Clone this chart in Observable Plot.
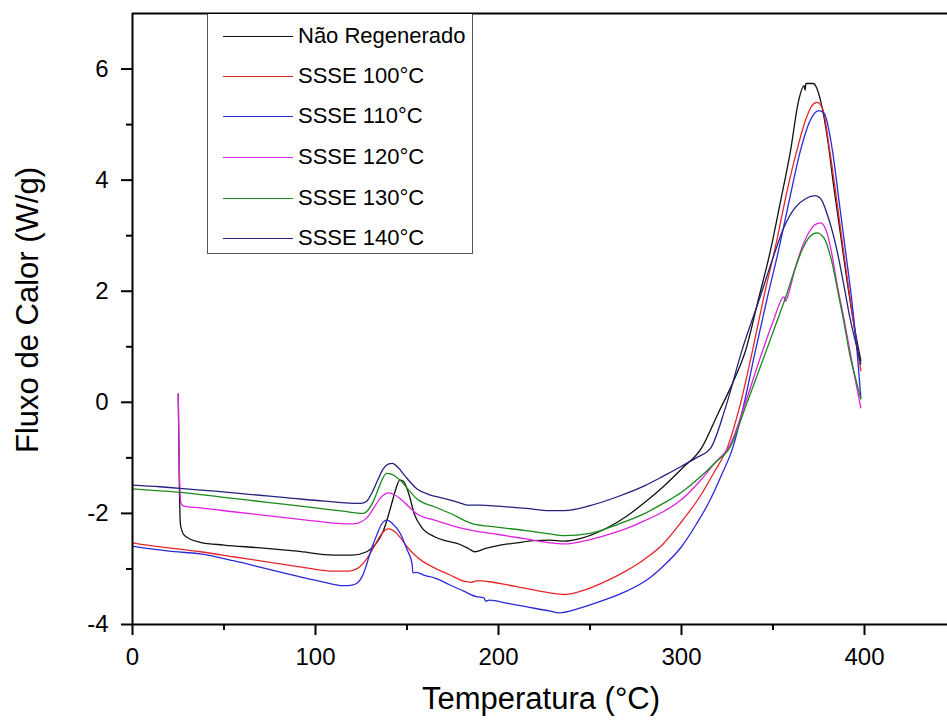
<!DOCTYPE html>
<html>
<head>
<meta charset="utf-8">
<script src="https://cdn.jsdelivr.net/npm/d3@7"></script>
<script src="https://cdn.jsdelivr.net/npm/@observablehq/plot@0.6"></script>
<style>
  html, body { margin: 0; padding: 0; background: #fff; }
  #wrap { position: relative; width: 947px; height: 722px; overflow: hidden; font-family: "Liberation Sans", Arial, sans-serif; }
  #legend { position: absolute; left: 207px; top: 14px; width: 266px; height: 240px; border: 1px solid #555; border-top: none; background: #fff; box-sizing: border-box; }
  .sw { position: absolute; left: 15px; width: 70px; height: 0; border-top: 1.3px solid; }
  .lt { position: absolute; left: 90px; font-size: 22px; white-space: nowrap; color: #000; }
  .title { position: absolute; font-size: 31px; color: #000; white-space: nowrap; line-height: 31px; }
</style>
</head>
<body>
<div id="wrap"></div>
<script>
// ---- Data ----
const seriesNames = ["Não Regenerado", "SSSE 100°C", "SSSE 110°C", "SSSE 120°C", "SSSE 130°C", "SSSE 140°C"];
const seriesColors = ["#111111", "#e8262a", "#2a2ad8", "#e020e0", "#1a8a1a", "#23237e"];

const naoT = [25,25.6,26.2,28,32,37,50,70,90,110,120,128,133,137,141,144,146,148,151,154,158,165,172,179,184,187,193,201,210,219,228,236,245,260,270,280,290,300,311,320,328,335,342,348.6,354,359.6,364,367,367.5,368,372,374,376,380,383,387,390.7,394,398];
const naoV = [0.15,-1.5,-2.2,-2.38,-2.47,-2.52,-2.57,-2.62,-2.68,-2.75,-2.75,-2.69,-2.55,-2.32,-1.9,-1.55,-1.40,-1.42,-1.65,-2.01,-2.25,-2.42,-2.5,-2.56,-2.64,-2.69,-2.63,-2.57,-2.53,-2.49,-2.48,-2.5,-2.45,-2.25,-2.05,-1.8,-1.52,-1.2,-0.82,-0.2,0.35,0.93,1.85,2.73,3.6,4.53,5.43,5.7,5.62,5.74,5.74,5.65,5.43,4.7,3.93,3.0,2.13,1.45,0.75];

const s100T = [0,10,20,37,55,75,95,110,118,123,128,132,135.5,138,140,143,146.5,150,153.7,158,165,173,181,185,189,195,210,228,236,245,260,270,280,290,300,310,318,325,332,338.8,345,352,357,363,368,371,374,377,381,385,388.5,392,395,398];
const s100V = [-2.53,-2.58,-2.62,-2.69,-2.78,-2.88,-2.98,-3.04,-3.04,-2.99,-2.82,-2.6,-2.4,-2.3,-2.28,-2.32,-2.44,-2.6,-2.73,-2.85,-2.98,-3.1,-3.22,-3.24,-3.21,-3.23,-3.32,-3.43,-3.46,-3.4,-3.2,-3.03,-2.82,-2.55,-2.15,-1.7,-1.25,-0.82,-0.05,0.93,1.9,2.9,3.7,4.53,5.1,5.33,5.40,5.3,4.53,3.6,2.73,1.9,1.2,0.57];

const s110T = [0,10,20,37,55,73.6,90,105,115,120,123,126,128,131,133.7,136,139,142,146.5,150,152.8,153.2,155,160,165,173,181,188,192,193,195,205,215,228.4,233,245,256,270,281,290,300,308,315,322,328,334,340.4,347,353,359,365,370,375,378,382.5,386,389.6,393,396,398];
const s110V = [-2.59,-2.64,-2.68,-2.73,-2.85,-3.0,-3.13,-3.24,-3.3,-3.29,-3.25,-3.1,-2.91,-2.6,-2.37,-2.2,-2.12,-2.18,-2.37,-2.65,-2.91,-3.07,-3.06,-3.12,-3.16,-3.28,-3.40,-3.5,-3.52,-3.58,-3.56,-3.62,-3.68,-3.76,-3.79,-3.7,-3.58,-3.4,-3.2,-2.95,-2.6,-2.2,-1.8,-1.3,-0.82,-0.05,0.93,1.9,2.73,3.65,4.53,5.05,5.25,5.2,4.53,3.65,2.73,1.85,0.9,0.08];

const s120T = [25,25.6,26.5,28,37,55,73.6,95,112,121,125,128,131.5,135.5,140,143,146.5,151,155.5,165,179,186,200,215,228,236,250,260,270,280,290,300,310,318,326.8,335,343,350,356,357,358,362,366,370,373,376,379,382,385,388.5,392,395,398];
const s120V = [0.15,-1.2,-1.82,-1.87,-1.90,-1.97,-2.04,-2.12,-2.18,-2.19,-2.15,-2.08,-1.92,-1.72,-1.63,-1.66,-1.74,-1.88,-2.01,-2.12,-2.26,-2.31,-2.38,-2.46,-2.53,-2.55,-2.47,-2.38,-2.27,-2.13,-1.97,-1.75,-1.42,-1.1,-0.75,0.0,0.8,1.45,1.9,1.82,1.9,2.4,2.8,3.08,3.2,3.23,3.1,2.7,2.13,1.55,0.93,0.4,-0.1];

const s130T = [0,13,26,50,73.6,100,115,126,129,131.8,135,138.8,142,146.5,151,155.5,165,175,181,186,200,215,228,236,250,265,280,290,300,310,318,327,335,344,351,357,362,366,370,374,378,382,386,389,392,395,398];
const s130V = [-1.56,-1.59,-1.62,-1.71,-1.80,-1.9,-1.96,-2.0,-1.93,-1.77,-1.5,-1.28,-1.3,-1.41,-1.58,-1.74,-1.88,-2.02,-2.12,-2.19,-2.25,-2.31,-2.37,-2.4,-2.36,-2.2,-2.0,-1.82,-1.62,-1.35,-1.1,-0.78,-0.08,0.72,1.35,1.9,2.4,2.75,2.98,3.05,2.95,2.55,1.9,1.4,0.85,0.45,0.06];

const s140T = [0,15,26,45,65,85,105,124.6,128,131,134,137,140,142,145,149,155.5,162,170,178,183,190,200,215,228,236,250,265,280,290,300,308,316,324,333,343,350,356,362,368,373,376,380,385,388.5,392,395,398];
const s140V = [-1.49,-1.52,-1.55,-1.6,-1.66,-1.72,-1.78,-1.82,-1.78,-1.62,-1.4,-1.2,-1.11,-1.1,-1.17,-1.33,-1.56,-1.66,-1.73,-1.8,-1.85,-1.85,-1.87,-1.91,-1.95,-1.95,-1.86,-1.7,-1.5,-1.33,-1.15,-1.0,-0.82,-0.1,0.93,1.9,2.6,3.15,3.5,3.67,3.72,3.67,3.35,2.73,2.15,1.53,1.1,0.69];

const xTicks = [0, 100, 200, 300, 400];
const xMinorTicks = [50, 150, 250, 350];
const yTicks = [-4, -2, 0, 2, 4, 6];
const yMinorTicks = [-3, -1, 1, 3, 5];

// ---- Build table ----
const allT = [naoT, s100T, s110T, s120T, s130T, s140T];
const allV = [naoV, s100V, s110V, s120V, s130V, s140V];
const rows = [];
allT.forEach((ts, i) => ts.forEach((t, j) => rows.push({series: seriesNames[i], t, v: allV[i][j]})));

const fmt = d => (d < 0 ? "-" + Math.abs(d) : String(d));

const W = 947, H = 722;
const chart = Plot.plot({
  width: W,
  height: H,
  marginLeft: 132,
  marginRight: 0,
  marginTop: 13,
  marginBottom: 98,
  style: {fontFamily: "'Liberation Sans', Arial, sans-serif", background: "#fff", color: "#000"},
  x: {domain: [0, 445.36]},
  y: {domain: [-4, 7]},
  color: {domain: seriesNames, range: seriesColors},
  marks: [
    Plot.line(rows, {x: "t", y: "v", z: "series", stroke: "series", strokeWidth: 1.3, curve: "monotone-x"}),
    Plot.ruleX([0], {stroke: "#000", strokeWidth: 2}),
    Plot.ruleY([-4], {stroke: "#000", strokeWidth: 2}),
    Plot.ruleY([7], {stroke: "#000", strokeWidth: 2}),
    Plot.axisX({ticks: xTicks, tickSize: 11, tickPadding: 12, fontSize: 24, strokeWidth: 2, label: null, tickFormat: fmt}),
    Plot.axisX({ticks: xMinorTicks, tickSize: 6, strokeWidth: 2, label: null, tickFormat: () => ""}),
    Plot.axisY({ticks: yTicks, tickSize: 11, tickPadding: 13, fontSize: 24, strokeWidth: 2, label: null, tickFormat: fmt}),
    Plot.axisY({ticks: yMinorTicks, tickSize: 6, strokeWidth: 2, label: null, tickFormat: () => ""})
  ]
});

const wrap = document.getElementById("wrap");
wrap.appendChild(chart);

// Legend (HTML overlay)
const legend = document.createElement("div");
legend.id = "legend";
const rowY = [22, 62, 102, 143, 184, 224];
seriesNames.forEach((name, i) => {
  const sw = document.createElement("div");
  sw.className = "sw";
  sw.style.top = rowY[i] + "px";
  sw.style.borderTopColor = seriesColors[i];
  legend.appendChild(sw);
  const lt = document.createElement("div");
  lt.className = "lt";
  lt.style.top = (rowY[i] - 13) + "px";
  lt.textContent = name;
  legend.appendChild(lt);
});
wrap.appendChild(legend);

// Axis titles
const xt = document.createElement("div");
xt.className = "title";
xt.textContent = "Temperatura (°C)";
xt.style.left = "0px";
xt.style.width = "1082px";
xt.style.textAlign = "center";
xt.style.top = "683px";
wrap.appendChild(xt);

const yt = document.createElement("div");
yt.className = "title";
yt.textContent = "Fluxo de Calor (W/g)";
yt.style.left = "27px";
yt.style.top = "310px";
yt.style.transform = "translate(-50%, -50%) rotate(-90deg)";
wrap.appendChild(yt);
</script>
</body>
</html>
